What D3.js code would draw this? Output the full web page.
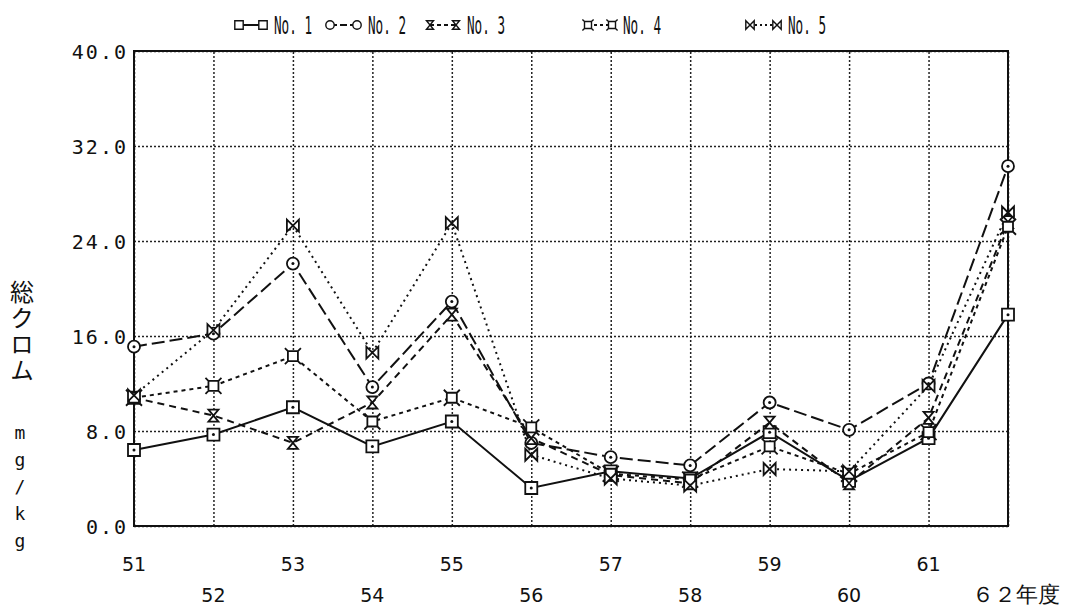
<!DOCTYPE html>
<html>
<head>
<meta charset="utf-8">
<script src="https://cdn.jsdelivr.net/npm/d3@7"></script>
<style>
  body { margin: 0; background: #fff; }
  svg { display: block; }
</style>
</head>
<body>
<div id="grafico"></div>
<script>
// DATOS
var anios = ['51', '52', '53', '54', '55', '56', '57', '58', '59', '60', '61', '62'];
var etiquetasX = ['51', '52', '53', '54', '55', '56', '57', '58', '59', '60', '61', '６２年度'];
var ticksY = [0, 8, 16, 24, 32, 40];
var nombres = ['No. 1', 'No. 2', 'No. 3', 'No. 4', 'No. 5'];
var no1 = [6.4, 7.7, 10.0, 6.7, 8.8, 3.2, 4.6, 4.0, 7.9, 3.8, 7.4, 17.8];
var no2 = [15.1, 16.2, 22.1, 11.7, 18.9, 7.0, 5.8, 5.1, 10.4, 8.1, 12.0, 30.3];
var no3 = [10.8, 9.3, 7.0, 10.4, 17.8, 7.4, 4.3, 3.6, 8.7, 3.6, 9.1, 25.6];
var no4 = [10.8, 11.8, 14.3, 8.8, 10.8, 8.3, 4.4, 3.9, 6.7, 4.4, 7.9, 25.2];
var no5 = [11.0, 16.5, 25.3, 14.6, 25.5, 6.0, 4.0, 3.4, 4.8, 4.6, 11.8, 26.4];
var tituloY = '総クロム';
var unidadY = 'mg/kg';

var series = [no1, no2, no3, no4, no5];

// TAMAÑO
var ancho = 1066, alto = 610;
var izq = 134, der = 1008, arriba = 51, abajo = 526;

var svg = d3.select('#grafico').append('svg')
    .attr('width', ancho)
    .attr('height', alto);

// ESCALAS
var x = d3.scalePoint().domain(anios).range([izq, der]).padding(0);
var y = d3.scaleLinear().domain([0, 40]).range([abajo, arriba]);

// estilos de linea de cada serie
var guiones = [null, '13,5', '7,5', '4,4', '2,4'];

// Marcadores (centrados en 0,0)
function marcador(i) {
    if (i === 0) return 'M-6,-6H6V6H-6Z';
    if (i === 1) return 'M-6,0A6,6 0 1,0 6,0A6,6 0 1,0 -6,0Z';
    if (i === 2) return 'M-5,-6H5L-5,6H5Z';
    if (i === 3) return 'M-5,-5H5V5H-5ZM-5,-5L-8,-8M5,-5L8,-8M-5,5L-8,8M5,5L8,8';
    return 'M-6,-6V6L6,-6V6Z';
}

// GRILLA
var g = svg.append('g');
g.append('g')
    .attr('transform', 'translate(0,' + abajo + ')')
    .call(d3.axisBottom(x).tickSize(-(abajo - arriba)).tickFormat(''))
    .call(function (s) { s.select('.domain').remove(); })
    .selectAll('.tick line')
    .attr('stroke', '#222')
    .attr('stroke-width', 1.5)
    .attr('stroke-dasharray', '2,2');

g.append('g')
    .attr('transform', 'translate(' + izq + ',0)')
    .call(d3.axisLeft(y).tickValues(ticksY).tickSize(-(der - izq)).tickFormat(d3.format('.1f')))
    .call(function (s) { s.select('.domain').remove(); })
    .call(function (s) {
        s.selectAll('.tick line')
            .attr('stroke', '#222')
            .attr('stroke-width', 1.5)
            .attr('stroke-dasharray', '2,2');
        s.selectAll('.tick text')
            .attr('x', -6)
            .attr('dy', '0.38em')
            .attr('font-family', 'DejaVu Sans Mono')
            .attr('font-size', 20)
            .attr('letter-spacing', 2)
            .attr('fill', '#111');
    });

// Etiquetas X escalonadas
svg.append('g').selectAll('text')
    .data(etiquetasX)
    .enter().append('text')
    .attr('x', function (d, i) { return x(anios[i]) + (i === 11 ? 8 : 0); })
    .attr('y', function (d, i) { return i % 2 === 0 ? 571 : 602; })
    .attr('text-anchor', 'middle')
    .attr('font-family', 'DejaVu Sans')
    .attr('font-size', function (d, i) { return i === 11 ? 22 : 19; })
    .attr('fill', '#111')
    .text(function (d) { return d; });

// MARCO
svg.append('rect')
    .attr('x', izq).attr('y', arriba)
    .attr('width', der - izq).attr('height', abajo - arriba)
    .attr('fill', 'none')
    .attr('stroke', '#111')
    .attr('stroke-width', 2);

// Lineas
var linea = d3.line()
    .x(function (d, i) { return x(anios[i]); })
    .y(function (d) { return y(d); });

series.forEach(function (datos, k) {
    svg.append('path')
        .attr('d', linea(datos))
        .attr('fill', 'none')
        .attr('stroke', '#111')
        .attr('stroke-width', 2)
        .attr('stroke-dasharray', guiones[k]);
});

series.forEach(function (datos, k) {
    svg.append('g').selectAll('path')
        .data(datos)
        .enter().append('path')
        .attr('transform', function (d, i) { return 'translate(' + x(anios[i]) + ',' + y(d) + ')'; })
        .attr('d', marcador(k))
        .attr('fill', '#fff')
        .attr('stroke', '#111')
        .attr('stroke-width', 1.8);
    if (k < 2) {
        svg.append('g').selectAll('circle')
            .data(datos)
            .enter().append('circle')
            .attr('cx', function (d, i) { return x(anios[i]); })
            .attr('cy', function (d) { return y(d); })
            .attr('r', 1.5)
            .attr('fill', '#111');
    }
});

// LEYENDA
var leyX = [239, 330, 430, 588, 750];
var leyAncho = [24, 27, 26, 24, 27];
var leyenda = svg.append('g');
nombres.forEach(function (n, k) {
    var x0 = leyX[k], x1 = leyX[k] + leyAncho[k];
    leyenda.append('line')
        .attr('x1', x0).attr('x2', x1)
        .attr('y1', 25).attr('y2', 25)
        .attr('stroke', '#111')
        .attr('stroke-width', 2)
        .attr('stroke-dasharray', k === 0 ? null : (k === 1 ? '7,3' : (k === 2 ? '4,3' : (k === 3 ? '3,3' : '2,3'))));
    [x0, x1].forEach(function (xx) {
        leyenda.append('path')
            .attr('transform', 'translate(' + xx + ',25) scale(0.7)')
            .attr('d', marcador(k))
            .attr('fill', '#fff')
            .attr('stroke', '#111')
            .attr('stroke-width', 2);
    });
    leyenda.append('text')
        .attr('x', x1 + 11)
        .attr('y', 34)
        .attr('font-family', 'DejaVu Sans Mono')
        .attr('font-size', 25)
        .attr('textLength', 38)
        .attr('lengthAdjust', 'spacingAndGlyphs')
        .attr('fill', '#111')
        .text(n);
});

// Titulo eje Y (vertical)
svg.append('text')
    .attr('x', 22)
    .attr('y', 280)
    .attr('font-family', 'Noto Sans CJK JP')
    .attr('font-size', 24)
    .attr('letter-spacing', 2)
    .style('writing-mode', 'vertical-rl')
    .style('text-orientation', 'upright')
    .attr('fill', '#111')
    .text(tituloY);

svg.append('text')
    .attr('x', 20)
    .attr('y', 422)
    .attr('font-family', 'DejaVu Sans Mono')
    .attr('font-size', 18)
    .attr('letter-spacing', 6)
    .style('writing-mode', 'vertical-rl')
    .style('text-orientation', 'upright')
    .attr('fill', '#111')
    .text(unidadY);
</script>
</body>
</html>
